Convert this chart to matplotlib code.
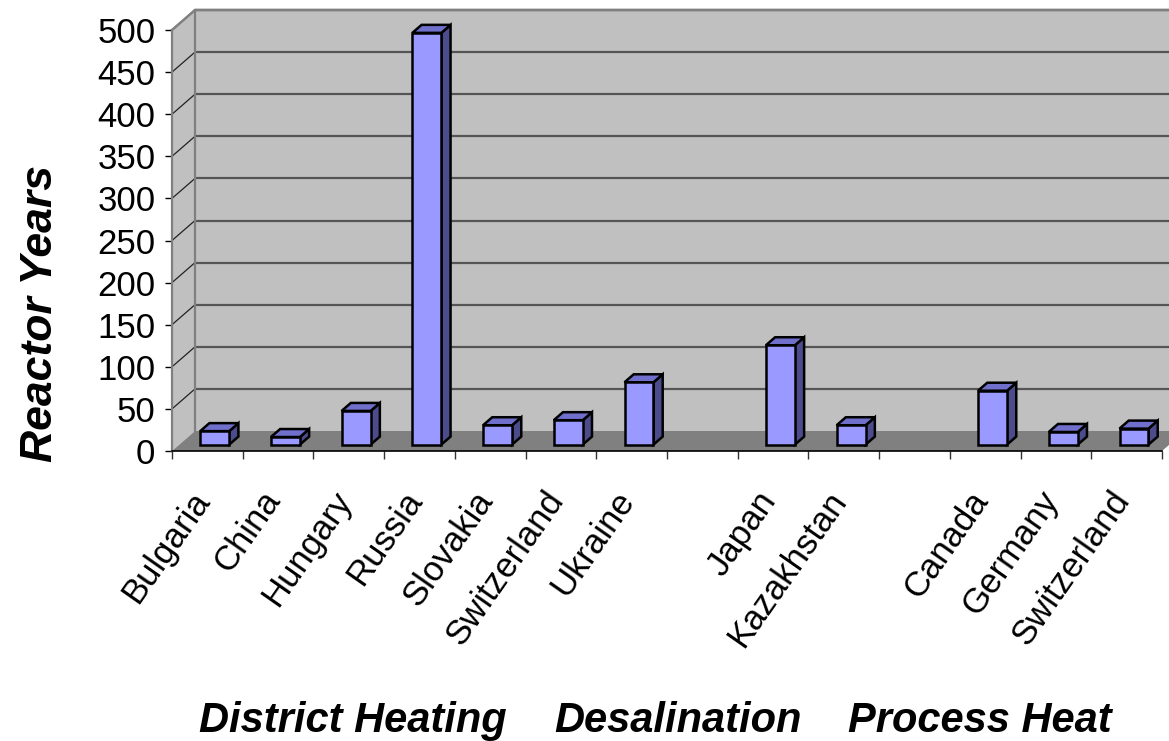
import matplotlib
matplotlib.use("Agg")
import matplotlib.pyplot as plt
from matplotlib.patches import Polygon
from matplotlib.transforms import ScaledTranslation

# ---- data -------------------------------------------------------------
categories = ["Bulgaria", "China", "Hungary", "Russia", "Slovakia",
              "Switzerland", "Ukraine", "", "Japan", "Kazakhstan", "",
              "Canada", "Germany", "Switzerland"]
reactor_years = [16, 9, 40, 489, 23, 29, 74, None, 118, 23, None, 64, 15, 19]
groups = ["District Heating", "Desalination", "Process Heat"]
y_ticks = list(range(0, 501, 50))

# ---- styling ----------------------------------------------------------
plt.rcParams["font.family"] = ["Liberation Sans", "DejaVu Sans"]

WALL = "#C0C0C0"
FLOOR = "#808080"
GRID = "#555555"
EDGE = "#808080"
FACE = "#9999FF"
TOP = "#7070CC"
SIDE = "#4C4C8C"

W, H = 1169, 741
fig = plt.figure(figsize=(W / 100, H / 100), dpi=100, facecolor="white")

n = len(categories)
ymax = 500
ax = fig.add_axes([172 / W, (H - 451) / H, 990 / W, 421 / H])
ax.set_xlim(0, n)
ax.set_ylim(0, ymax)
ax.patch.set_visible(False)

# depth offset of the 3-D box (in data units)
slot_px = 990 / n
unit_px = 421 / ymax
DX = 23 / slot_px
DY = 20 / unit_px


def poly(pts, fc, ec="none", lw=0, z=1):
    ax.add_patch(Polygon(pts, closed=True, facecolor=fc, edgecolor=ec,
                         linewidth=lw, clip_on=False, zorder=z,
                         joinstyle="miter"))


# back wall, side wall, floor
poly([(DX, DY), (DX, ymax + DY), (n + DX, ymax + DY), (n + DX, DY)], WALL, z=0.5)
poly([(0, 0), (0, ymax), (DX, ymax + DY), (DX, DY)], WALL, z=0.5)
poly([(0, 0), (n, 0), (n + DX, DY), (DX, DY)], FLOOR, z=0.6)

# gridlines on back wall and side wall
for v in y_ticks[1:]:
    ax.plot([DX, n + DX], [v + DY, v + DY], color=GRID, lw=1.6,
            clip_on=False, zorder=0.7, solid_capstyle="butt")
    ax.plot([0, DX], [v, v + DY], color="#222222", lw=0.9,
            clip_on=False, zorder=0.7)

# wall outlines
ax.plot([DX, DX], [DY, ymax + DY], color=EDGE, lw=1.6, clip_on=False, zorder=0.8)
ax.plot([0, DX, n + DX], [ymax, ymax + DY, ymax + DY], color=EDGE, lw=1.8,
        clip_on=False, zorder=0.8)

# bars
d0, d1 = 0.32, 0.72
bw = 0.41
for i, v in enumerate(reactor_years):
    if v is None:
        continue
    x0 = i + 0.5 - bw / 2 + d0 * DX
    x1 = x0 + bw
    y0 = d0 * DY
    y1 = y0 + v
    ex = (d1 - d0) * DX
    ey = (d1 - d0) * DY
    poly([(x1, y0), (x1 + ex, y0 + ey), (x1 + ex, y1 + ey), (x1, y1)],
         SIDE, "black", 1.8, z=2)
    poly([(x0, y1), (x1, y1), (x1 + ex, y1 + ey), (x0 + ex, y1 + ey)],
         TOP, "black", 1.8, z=2)
    poly([(x0, y0), (x1, y0), (x1, y1), (x0, y1)],
         FACE, "black", 1.8, z=2.1)

# axes lines and ticks
for s in ("top", "right"):
    ax.spines[s].set_visible(False)
ax.spines["left"].set_color(EDGE)
ax.spines["left"].set_linewidth(1.6)
ax.spines["bottom"].set_color("black")
ax.spines["bottom"].set_linewidth(1.2)
ax.spines["left"].set_zorder(3)
ax.spines["bottom"].set_zorder(3)

ax.set_yticks(y_ticks)
ax.set_yticklabels([str(t) for t in y_ticks])
ax.tick_params(axis="y", labelsize=25, length=5, width=1, pad=7,
               color="black", direction="out")
ax.set_xticks(range(n + 1))
ax.set_xticklabels([])
ax.tick_params(axis="x", length=6, width=1, color="#333333", direction="out")

# category labels
offset = ScaledTranslation(0.035, -0.49, fig.dpi_scale_trans)
for i, name in enumerate(categories):
    if not name:
        continue
    ax.text(i + 0.5, 0, name, transform=ax.transData + offset,
            rotation=55, rotation_mode="anchor", ha="right", va="baseline",
            fontsize=25, clip_on=False)

# group titles under the axis
group_x = [353, 678, 980]
for gx, g in zip(group_x, groups):
    fig.text(gx / W, 9 / H, g, ha="center", va="baseline", fontsize=30,
             fontweight="bold", fontstyle="italic")

# value axis title
fig.text(52 / W, (H - 314) / H, "Reactor Years", rotation=90,
         rotation_mode="anchor", ha="center", va="baseline", fontsize=32,
         fontweight="bold", fontstyle="italic")

fig.savefig("out.png", dpi=100, facecolor="white")
